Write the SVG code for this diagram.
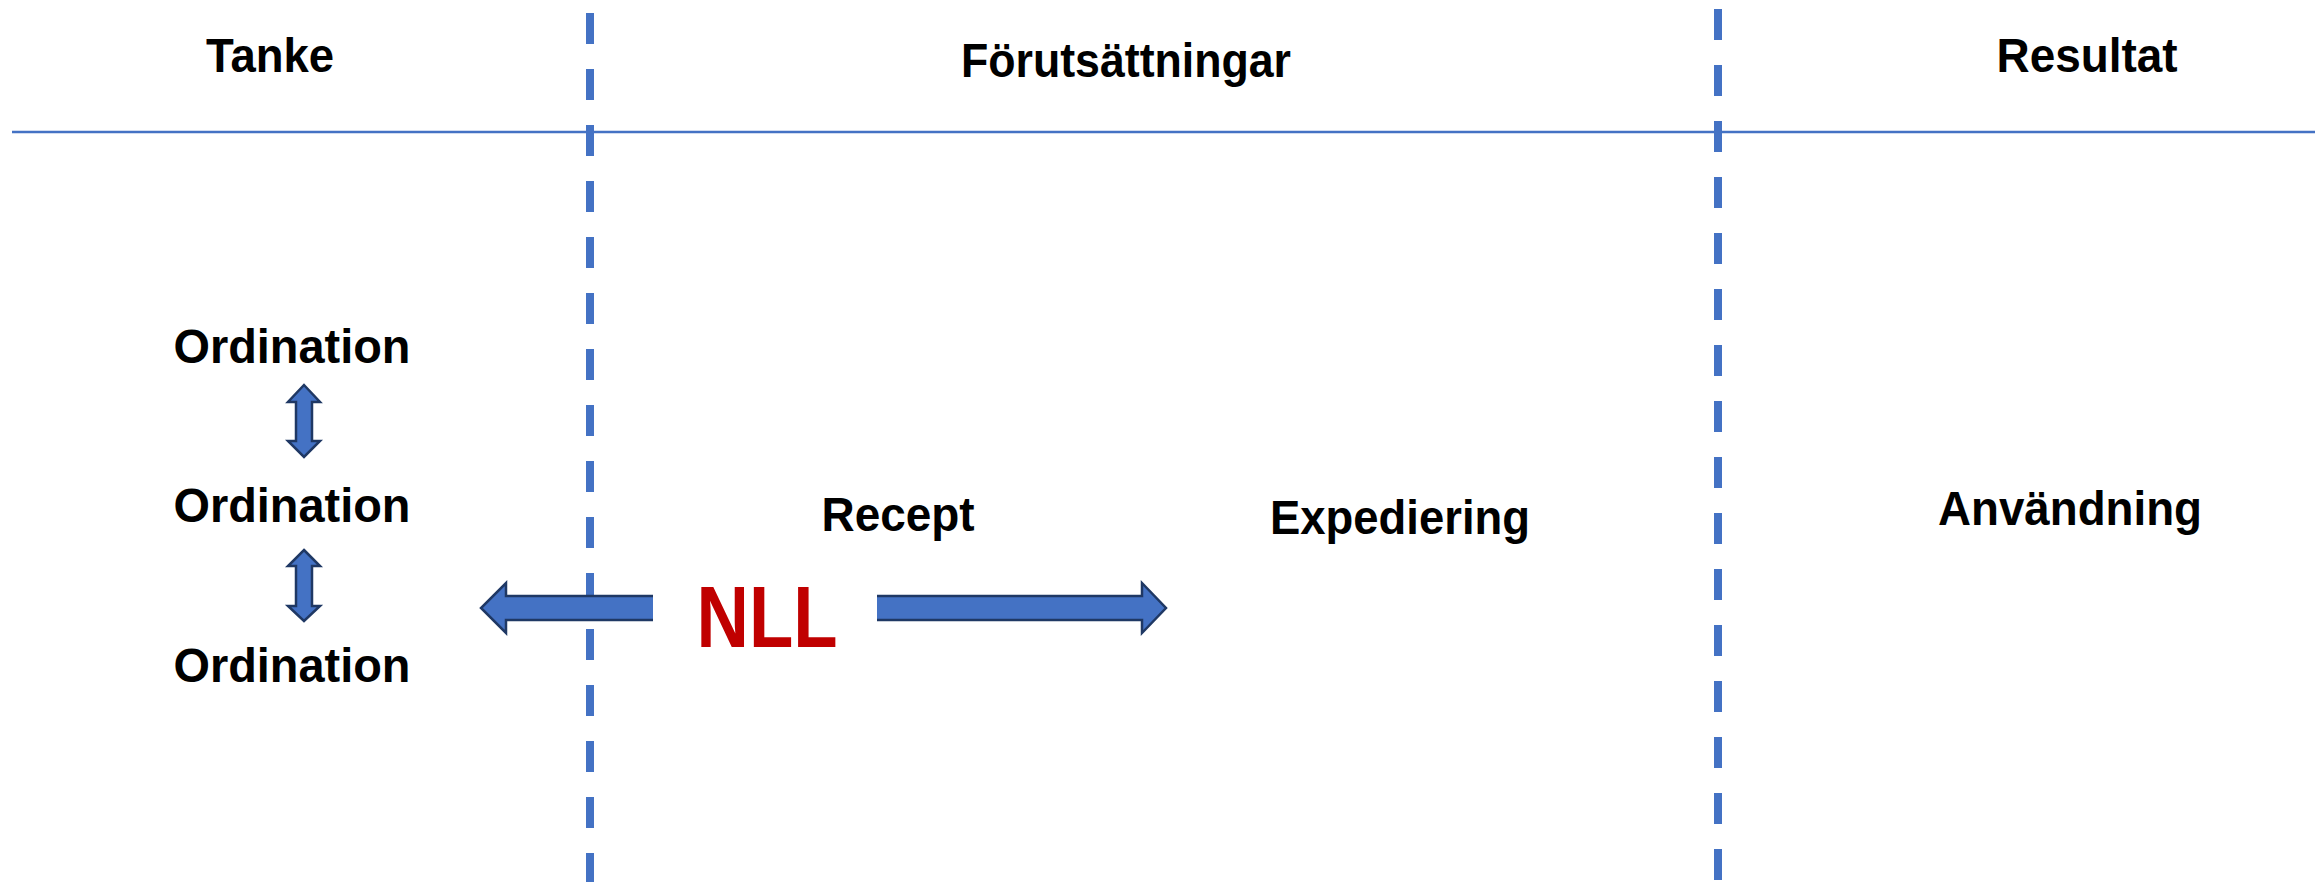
<svg xmlns="http://www.w3.org/2000/svg" width="2315" height="882" viewBox="0 0 2315 882">
<style>
.lbl{font-family:"Liberation Sans",Arial,sans-serif;font-weight:bold;font-size:48px;fill:#000;text-anchor:middle}
.nll{font-family:"Liberation Sans",Arial,sans-serif;font-weight:bold;font-size:87px;fill:#C00000;text-anchor:middle}
.dash{stroke:#4472C4;stroke-width:8;stroke-dasharray:31 25;fill:none}
.rule{stroke:#4472C4;stroke-width:2.5;fill:none}
.arrfill{fill:#4472C4;stroke:none}
.arrline{fill:none;stroke:#1F3864;stroke-width:2.5;stroke-linejoin:miter}
</style>
<rect width="2315" height="882" fill="#fff"/>
<g id="lines">
<line class="rule" x1="12" y1="132" x2="2315" y2="132"/>
<line class="dash" x1="590" y1="13" x2="590" y2="882"/>
<line class="dash" x1="1718" y1="9" x2="1718" y2="882"/>
</g>
<g id="headers">
<text id="tanke" class="lbl" x="270" y="72" textLength="128" lengthAdjust="spacingAndGlyphs">Tanke</text>
<text id="forutsattningar" class="lbl" x="1126" y="77" textLength="330" lengthAdjust="spacingAndGlyphs">Förutsättningar</text>
<text id="resultat" class="lbl" x="2087" y="72" textLength="181" lengthAdjust="spacingAndGlyphs">Resultat</text>
</g>
<g id="ordination1"><text class="lbl" x="292" y="363" textLength="237" lengthAdjust="spacingAndGlyphs">Ordination</text></g>
<g id="ordination2"><text class="lbl" x="292" y="522" textLength="237" lengthAdjust="spacingAndGlyphs">Ordination</text></g>
<g id="ordination3"><text class="lbl" x="292" y="682" textLength="237" lengthAdjust="spacingAndGlyphs">Ordination</text></g>
<g id="recept"><text class="lbl" x="898" y="531" textLength="153" lengthAdjust="spacingAndGlyphs">Recept</text></g>
<g id="expediering"><text class="lbl" x="1400" y="534" textLength="260" lengthAdjust="spacingAndGlyphs">Expediering</text></g>
<g id="anvandning"><text class="lbl" x="2070" y="525" textLength="264" lengthAdjust="spacingAndGlyphs">Användning</text></g>
<g id="nll"><text class="nll" x="767" y="647" textLength="141" lengthAdjust="spacingAndGlyphs">NLL</text></g>
<g id="connectors">
<g id="varrow1">
<polygon class="arrfill" points="304,385 320,402 312,402 312,441 320,441 304,457 288,441 296,441 296,402 288,402"/>
<polygon class="arrline" points="304,385 320,402 312,402 312,441 320,441 304,457 288,441 296,441 296,402 288,402"/>
</g>
<g id="varrow2">
<polygon class="arrfill" points="304,550 320,566 312,566 312,606 320,606 304,621 288,606 296,606 296,566 288,566"/>
<polygon class="arrline" points="304,550 320,566 312,566 312,606 320,606 304,621 288,606 296,606 296,566 288,566"/>
</g>
<g id="harrow-left">
<polygon class="arrfill" points="653,596 506,596 506,583 481,608 506,633 506,620 653,620"/>
<polyline class="arrline" points="653,596 506,596 506,583 481,608 506,633 506,620 653,620"/>
</g>
<g id="harrow-right">
<polygon class="arrfill" points="877,596 1142,596 1142,583 1166,608 1142,633 1142,620 877,620"/>
<polyline class="arrline" points="877,596 1142,596 1142,583 1166,608 1142,633 1142,620 877,620"/>
</g>
</g>
</svg>
